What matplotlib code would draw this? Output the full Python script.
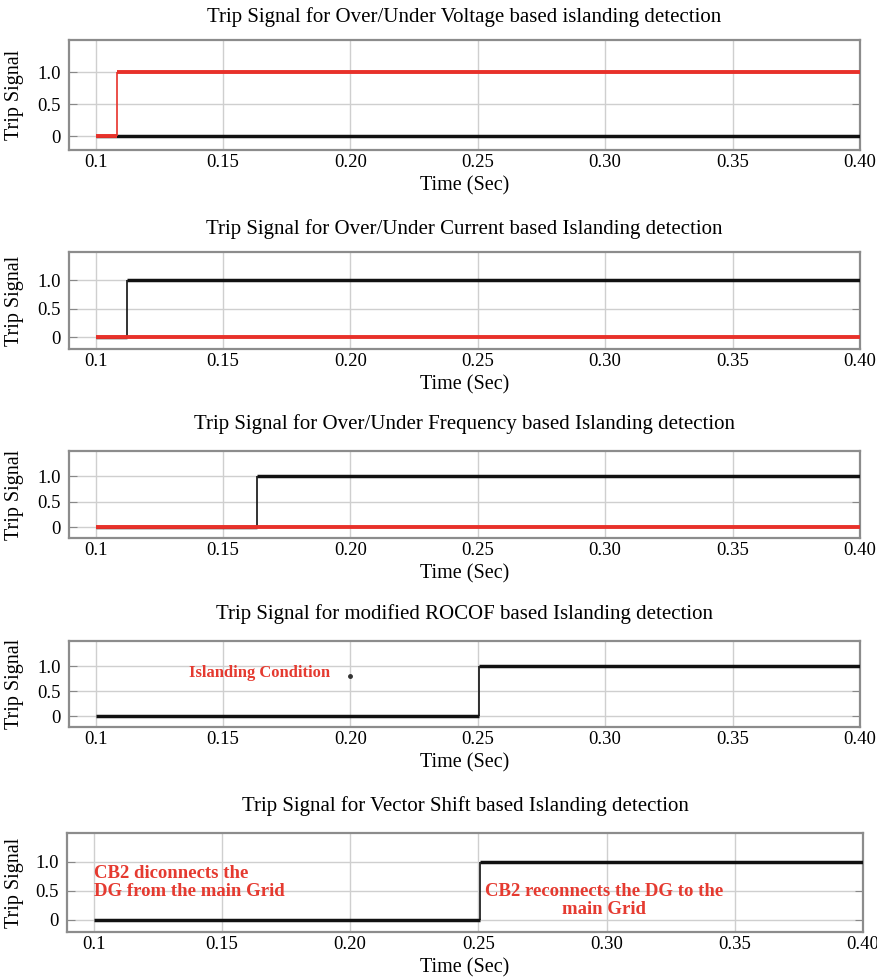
import numpy as np
import matplotlib
matplotlib.use("Agg")
import matplotlib.pyplot as plt

plt.rcParams['font.family'] = ['Liberation Serif', 'DejaVu Serif']

# data
titles = [
    "Trip Signal for Over/Under Voltage based islanding detection",
    "Trip Signal for Over/Under Current based Islanding detection",
    "Trip Signal for Over/Under Frequency based Islanding detection",
    "Trip Signal for modified ROCOF based Islanding detection",
    "Trip Signal for Vector Shift based Islanding detection",
]
t_start = 0.1
t_end = 0.40
# time at which the trip signal switches from 0 to 1, per panel
red_step = [0.1084, None, None, None, None]      # red trace step (None = stays 0)
black_step = [None, 0.1123, 0.1632, 0.2505, 0.2505]  # black trace step (None = stays 0)
has_red = [True, True, True, False, False]

xticks = [0.1, 0.15, 0.20, 0.25, 0.30, 0.35, 0.40]
xtick_labels = ["0.1", "0.15", "0.20", "0.25", "0.30", "0.35", "0.40"]
yticks = [0, 0.5, 1.0]
ytick_labels = ["0", "0.5", "1.0"]

dot_x = [0.2]
dot_y = [0.8]

RED = '#e8312a'
BLACK = '#111111'
TXT_RED = '#e53a30'

# axes boxes in pixels (left, right, top, bottom) for an 878x980 figure
W, H = 878, 980
boxes = [(69, 860, 40, 150), (69, 860, 252, 349), (69, 860, 451, 538),
         (69, 860, 641, 727), (67, 863, 833, 932)]
title_pads = [13, 13, 16, 16, 16]

fig = plt.figure(figsize=(W / 100, H / 100), dpi=100)


def draw_step(ax, step, color, lw_h, lw_v, z):
    if step is None:
        ax.hlines(0, t_start, t_end, colors=color, lw=lw_h, zorder=z)
    else:
        ax.hlines(0, t_start, step, colors=color, lw=lw_h, zorder=z)
        ax.vlines(step, 0, 1, colors=color, lw=lw_v, zorder=z)
        ax.hlines(1, step, t_end, colors=color, lw=lw_h, zorder=z)


axes = []
for i, (lp, rp, top, bot) in enumerate(boxes):
    ax = fig.add_axes([lp / W, 1 - bot / H, (rp - lp) / W, (bot - top) / H])
    axes.append(ax)
    draw_step(ax, black_step[i], BLACK, 2.5, 1.2, 3)
    if has_red[i]:
        draw_step(ax, red_step[i], RED, 2.8, 1.2, 4)

    ax.set_xlim(0.0896, 0.40)
    ax.set_ylim(-0.21, 1.5)
    ax.set_xticks(xticks)
    ax.set_xticklabels(xtick_labels, fontsize=13.5)
    ax.set_yticks(yticks)
    ax.set_yticklabels(ytick_labels, fontsize=13.5)
    ax.tick_params(axis='x', length=0, pad=3)
    ax.tick_params(axis='y', direction='in', length=6, color='#888888', pad=6,
                   right=True)
    ax.grid(True, color='#cfcfcf', lw=1.0, zorder=0)
    for s in ax.spines.values():
        s.set_color('#8c8c8c')
        s.set_linewidth(1.6)
    ax.set_title(titles[i], fontsize=15, pad=title_pads[i])
    ax.set_xlabel("Time (Sec)", fontsize=14.5)
    ax.set_ylabel("Trip Signal", fontsize=14.5)
    h = bot - top
    ax.yaxis.set_label_coords(-(lp - 24) / (rp - lp), 0.5)
    ax.xaxis.set_label_coords(0.5, -26 / h)

# annotations
axes[3].plot(dot_x, dot_y, 'o', color='#333333', ms=2.5, zorder=5)
axes[3].text(0.1644, 0.86, "Islanding Condition", color=TXT_RED,
             fontsize=12, fontweight='bold', ha='center', va='center')
axes[4].text(0.1, 0.64, "CB2 diconnects the\nDG from the main Grid", color=TXT_RED,
             fontsize=13.5, fontweight='bold', ha='left', va='center', linespacing=1.1)
axes[4].text(0.299, 0.335, "CB2 reconnects the DG to the\nmain Grid", color=TXT_RED,
             fontsize=13.5, fontweight='bold', ha='center', va='center', linespacing=1.1)

fig.savefig("out.png", dpi=100)
